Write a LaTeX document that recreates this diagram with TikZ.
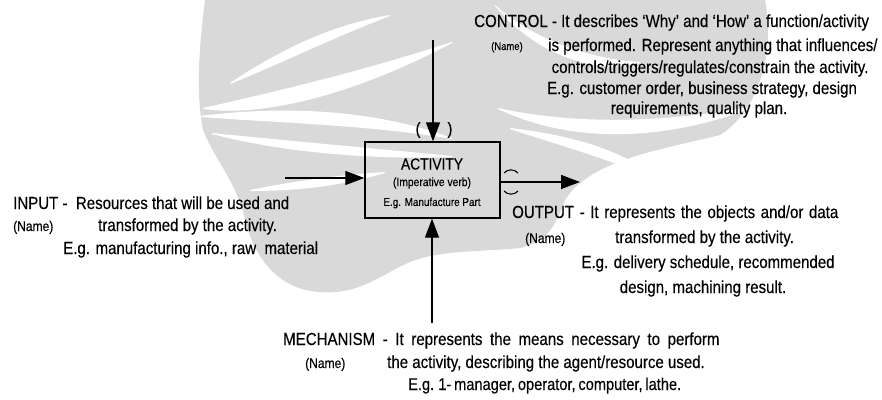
\documentclass[tikz,border=0pt]{standalone}
\usepackage{fontspec}
\setmainfont[FakeStretch=0.86,FakeBold=0.3]{Liberation Sans}
\usetikzlibrary{arrows.meta,calc}
\definecolor{wmgray}{gray}{0.85}
\newcommand\wband[5]{\fill[white] #1 .. controls #2 and #3 .. #4 -- ($#4+(0,1)$) .. controls ($#3+(0,#5)$) and ($#2+(0,#5)$) .. ($#1+(0,1)$) -- cycle;}
\begin{document}
\begin{tikzpicture}[x=1pt,y=-1pt,
  txt/.style={anchor=base west,inner sep=0pt,font=\fontsize{17.5}{19}\selectfont},
  ctx/.style={anchor=base,inner sep=0pt,font=\fontsize{17.5}{19}\selectfont},
  nm/.style={anchor=base west,inner sep=0pt,font=\fontsize{14}{15}\selectfont},
  arr/.style={line width=1.3pt,-{Triangle[length=19pt,width=14pt]}}]
\useasboundingbox (0,0) rectangle (882,399);
% faint watermark in the background
\fill[wmgray] (205,0) -- (765,0) .. controls (775,50) and (760,110) .. (720,135)
  .. controls (660,150) and (590,160) .. (565,200)
  .. controls (555,225) and (550,240) .. (520,248)
  .. controls (480,252) and (440,250) .. (410,262)
  .. controls (380,275) and (360,295) .. (320,292)
  .. controls (280,290) and (255,260) .. (245,220)
  .. controls (238,185) and (215,160) .. (203,130)
  .. controls (195,90) and (200,40) .. (205,0) -- cycle;
\wband{(230,83)}{(280,50)}{(330,25)}{(390,15)}{14}
\wband{(203,108)}{(260,95)}{(350,75)}{(452,42)}{22}
\wband{(200,116)}{(280,106)}{(370,108)}{(452,138)}{17}
\wband{(212,133)}{(280,140)}{(370,148)}{(452,156)}{12}
\wband{(250,190)}{(300,180)}{(340,175)}{(385,172)}{11}
\wband{(498,108)}{(570,124)}{(660,124)}{(755,106)}{19}
\wband{(510,128)}{(570,135)}{(630,150)}{(668,188)}{14}
\wband{(495,5)}{(540,45)}{(600,60)}{(640,62)}{14}
% activity box
\node[draw,line width=1.4pt,minimum width=135pt,minimum height=76pt,inner sep=0pt] (act) at (432.5,180) {};
\node[inner sep=0pt,font=\fontsize{16}{17}\selectfont] (a1) at (432,164) {ACTIVITY};
\node[inner sep=0pt,font=\fontsize{12}{13}\selectfont] (a2) at (432,183) {(Imperative verb)};
\node[inner sep=0pt,font=\fontsize{11.5}{12}\selectfont] (a3) at (432,203) {E.g. Manufacture Part};
% connectors
\coordinate (ctop) at (433,40);
\draw[arr] (ctop) -- (ctop |- act.north);
\coordinate (mbot) at (432,323);
\draw[arr] (mbot) -- (mbot |- act.south);
\coordinate (iin) at (285,178);
\draw[arr] (iin) -- (iin -| act.west);
\coordinate (oout) at (580,182);
\draw[arr] (oout -| act.east) -- (oout);
\node[inner sep=0pt,font=\fontsize{17}{18}\selectfont] (pl) at (418,130) {(};
\node[inner sep=0pt,font=\fontsize{17}{18}\selectfont] (pr) at (450,130) {)};
\coordinate (t1) at (511,171);
\draw[line width=1.1pt] ($(t1)+(-7,2)$) to[bend left=50] ($(t1)+(7,2)$);
\coordinate (t2) at (511,193);
\draw[line width=1.1pt] ($(t2)+(-7,-2)$) to[bend right=50] ($(t2)+(7,-2)$);
% control
\node[txt] (c1) at (474,27) {CONTROL - It describes `Why' and `How' a function/activity};
\node[nm,font=\fontsize{11}{12}\selectfont] (c2n) at (491,50) {(Name)};
\node[txt] (c2) at (548,51) {is performed. Represent anything that influences/};
\node[ctx] (c3) at (710,73) {controls/triggers/regulates/constrain the activity.};
\node[ctx] (c4) at (702,94) {E.g. customer order, business strategy, design};
\node[ctx] (c5) at (699,114) {requirements, quality plan.};
% input
\node[txt] (i1) at (13,209) {INPUT -\ \ Resources that will be used and};
\node[nm] (i2n) at (13,231) {(Name)};
\node[txt] (i2) at (98,231) {transformed by the activity.};
\node[txt] (i3) at (63,254) {E.g. manufacturing info., raw\ \ material};
% output
\node[txt] (o1) at (512,218) {\spaceskip=5.6pt OUTPUT - It represents the objects and/or data};
\node[nm] (o2n) at (525,243) {(Name)};
\node[txt] (o2) at (615,243) {transformed by the activity.};
\node[ctx] (o3) at (708,268) {E.g. delivery schedule, recommended};
\node[ctx] (o4) at (703,293) {design, machining result.};
% mechanism
\node[txt] (m1) at (283,345) {\spaceskip=7.6pt MECHANISM - It represents the means necessary to perform};
\node[nm] (m2n) at (305,368) {(Name)};
\node[txt] (m2) at (387,368) {the activity, describing the agent/resource used.};
\node[txt,font=\fontsize{17}{19}\selectfont] (m3) at (408,390) {\spaceskip=2.8pt E.g. 1- manager, operator, computer, lathe.};
\end{tikzpicture}
\end{document}
